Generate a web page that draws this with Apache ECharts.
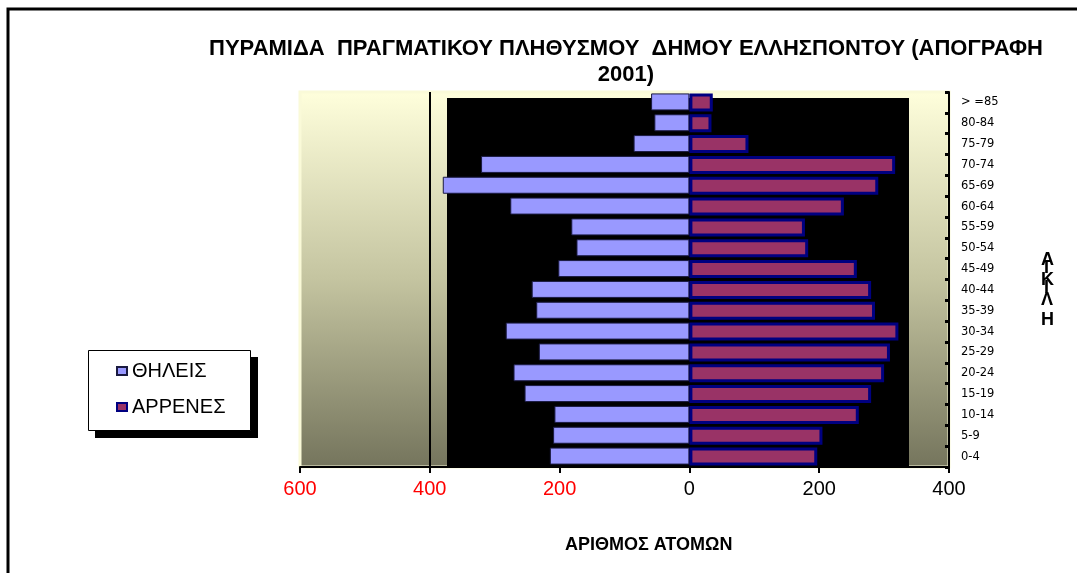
<!DOCTYPE html>
<html>
<head>
<meta charset="utf-8">
<script src="https://cdn.jsdelivr.net/npm/echarts@6/dist/echarts.min.js"></script>
<style>
html,body{margin:0;padding:0;background:#fff;}
#chart{width:1077px;height:573px;}
</style>
</head>
<body>
<div id="chart"></div>
<script>
var ageGroups = ['0-4','5-9','10-14','15-19','20-24','25-29','30-34','35-39','40-44','45-49','50-54','55-59','60-64','65-69','70-74','75-79','80-84','> =85'];
var females = [215, 210, 208, 254, 271, 232, 283, 236, 243, 202, 174, 182, 276, 380, 321, 86, 54, 59];
var males   = [197, 205, 261, 280, 300, 309, 322, 286, 280, 258, 183, 178, 238, 291, 317, 91, 34, 36];
var xTicks = [-600, -400, -200, 0, 200, 400];
var titleText = 'ΠΥΡΑΜΙΔΑ  ΠΡΑΓΜΑΤΙΚΟΥ ΠΛΗΘΥΣΜΟΥ  ΔΗΜΟΥ ΕΛΛΗΣΠΟΝΤΟΥ (ΑΠΟΓΡΑΦΗ\n2001)';

var chart = echarts.init(document.getElementById('chart'), null, {renderer:'canvas'});
var option = {
  animation: false,
  backgroundColor: '#ffffff',
  title: {
    text: titleText,
    left: 621, top: 31, textAlign: 'center',
    textStyle: {fontFamily: 'Liberation Sans', fontWeight: 'bold', fontSize: 22, color: '#000', lineHeight: 26}
  },
  legend: {
    orient: 'vertical',
    left: 116, top: 361, z: 20,
    padding: 0,
    itemGap: 16,
    itemWidth: 10, itemHeight: 8,
    icon: 'rect',
    textStyle: {fontFamily: 'Liberation Sans', fontSize: 20, color: '#000', padding: [0,0,0,0]},
    data: ['ΘΗΛΕΙΣ', 'ΑΡΡΕΝΕΣ']
  },
  grid: {
    left: 300, right: 128, top: 92, bottom: 106,
    show: true,
    borderColor: '#FAFAD8', borderWidth: 3,
    backgroundColor: {type: 'linear', x: 0, y: 0, x2: 0, y2: 1,
      colorStops: [{offset: 0, color: '#FFFFDC'}, {offset: 0.5, color: '#C4C4A0'}, {offset: 1, color: '#74745C'}]}
  },
  xAxis: {
    type: 'value', min: -600, max: 400, interval: 200, z: 5,
    axisLine: {show: true, lineStyle: {color: '#000', width: 2}},
    axisTick: {show: true, length: 6, lineStyle: {color: '#000', width: 2}},
    splitLine: {show: false},
    axisLabel: {
      margin: 12,
      fontFamily: 'Liberation Sans', fontSize: 20,
      formatter: function (v) { return String(Math.abs(v)); },
      color: function (v) { return Number(v) < 0 ? '#FF0000' : '#000000'; }
    }
  },
  yAxis: {
    type: 'category', position: 'right', data: ageGroups, z: 5,
    axisLine: {show: true, onZero: false, lineStyle: {color: '#000', width: 2}},
    axisTick: {show: true, inside: true, length: 4, lineStyle: {color: '#000', width: 3}},
    axisLabel: {margin: 12, fontFamily: 'DejaVu Sans', fontSize: 11.5, color: '#000'}
  },
  graphic: [
    {type: 'rect', z: -1, shape: {x: 8, y: 9, width: 1080, height: 580}, style: {fill: 'none', stroke: '#000', lineWidth: 3}},
    {type: 'rect', z: 1, shape: {x: 447, y: 98, width: 462, height: 370}, style: {fill: '#000'}},
    {type: 'rect', z: 6, shape: {x: 95, y: 357, width: 163, height: 81}, style: {fill: '#000'}},
    {type: 'rect', z: 7, shape: {x: 88.5, y: 350.5, width: 162, height: 80}, style: {fill: '#fff', stroke: '#000', lineWidth: 1}},
    {type: 'text', left: 565, top: 536, z: 10, style: {text: 'ΑΡΙΘΜΟΣ ΑΤΟΜΩΝ', font: 'bold 18px "Liberation Sans"', fill: '#000'}},
    {type: 'text', left: 1041, top: 250, z: 10, style: {text: 'Α\nΚ\nΛ\nΗ', font: 'bold 18px "Liberation Sans"', lineHeight: 20, fill: '#000', align: 'center'}},
    {type: 'text', left: 1044, top: 258, z: 10, style: {text: 'Ι\nΙ', font: 'bold 18px "Liberation Sans"', lineHeight: 20, fill: '#000'}}
  ],
  series: [
    {
      name: 'ΘΗΛΕΙΣ', type: 'bar', z: 3,
      data: females.map(function (v) { return -v; }),
      barWidth: 17, barGap: '-100%',
      itemStyle: {color: '#9999FF', borderColor: '#1A1A40', borderWidth: 1},
      markLine: {
        silent: true, symbol: 'none', label: {show: false},
        lineStyle: {color: '#000', width: 2, type: 'solid'},
        data: [{xAxis: -400}]
      }
    },
    {
      name: 'ΑΡΡΕΝΕΣ', type: 'bar', z: 3,
      data: males,
      barWidth: 18, barGap: '-100%',
      itemStyle: {color: '#993366', borderColor: '#000080', borderWidth: 3}
    }
  ]
};
chart.setOption(option);
</script>
</body>
</html>
